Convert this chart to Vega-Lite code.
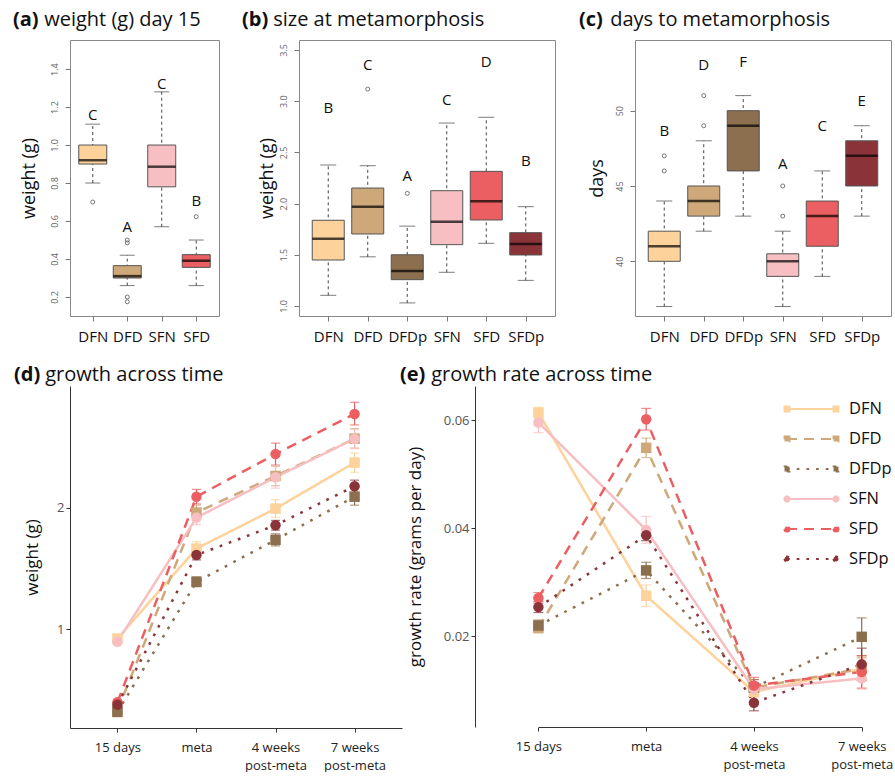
{
  "$schema": "https://vega.github.io/schema/vega-lite/v6.json",
  "autosize": {"type": "pad"},
  "padding": {"left": 12, "top": 9, "right": 0, "bottom": 0},
  "background": "white",
  "config": {
    "font": "Open Sans",
    "view": {"stroke": null},
    "axis": {"grid": false},
    "title": {"anchor": "start", "frame": "group", "fontSize": 20, "fontWeight": "bold", "subtitleFontSize": 20, "subtitleFontWeight": "normal", "color": "#111", "subtitleColor": "#111", "subtitlePadding": -20, "offset": 10, "font": "Open Sans", "subtitleFont": "Open Sans"}
  },
  "datasets": {
    "boxA": [
      {"g": "DFN", "lo": 0.80, "q1": 0.90, "med": 0.92, "q3": 1.00, "hi": 1.11, "letter": "C", "ly": 1.158},
      {"g": "DFD", "lo": 0.26, "q1": 0.30, "med": 0.31, "q3": 0.365, "hi": 0.42, "letter": "A", "ly": 0.568},
      {"g": "SFN", "lo": 0.57, "q1": 0.78, "med": 0.886, "q3": 1.00, "hi": 1.28, "letter": "C", "ly": 1.32},
      {"g": "SFD", "lo": 0.26, "q1": 0.356, "med": 0.391, "q3": 0.423, "hi": 0.50, "letter": "B", "ly": 0.707}
    ],
    "outA": [
      {"g": "DFN", "v": 0.70},
      {"g": "DFD", "v": 0.485},
      {"g": "DFD", "v": 0.50},
      {"g": "DFD", "v": 0.20},
      {"g": "DFD", "v": 0.175},
      {"g": "SFD", "v": 0.623}
    ],
    "boxB": [
      {"g": "DFN", "lo": 1.104, "q1": 1.449, "med": 1.657, "q3": 1.837, "hi": 2.377, "letter": "B", "ly": 2.93},
      {"g": "DFD", "lo": 1.48, "q1": 1.703, "med": 1.97, "q3": 2.152, "hi": 2.37, "letter": "C", "ly": 3.357},
      {"g": "DFDp", "lo": 1.03, "q1": 1.257, "med": 1.342, "q3": 1.50, "hi": 1.78, "letter": "A", "ly": 2.267},
      {"g": "SFN", "lo": 1.329, "q1": 1.599, "med": 1.823, "q3": 2.126, "hi": 2.787, "letter": "C", "ly": 3.01},
      {"g": "SFD", "lo": 1.612, "q1": 1.84, "med": 2.022, "q3": 2.315, "hi": 2.843, "letter": "D", "ly": 3.38},
      {"g": "SFDp", "lo": 1.25, "q1": 1.498, "med": 1.605, "q3": 1.716, "hi": 1.97, "letter": "B", "ly": 2.413}
    ],
    "outB": [
      {"g": "DFD", "v": 3.119},
      {"g": "DFDp", "v": 2.10}
    ],
    "boxC": [
      {"g": "DFN", "lo": 37, "q1": 40, "med": 41, "q3": 42, "hi": 44, "letter": "B", "ly": 48.67},
      {"g": "DFD", "lo": 42, "q1": 43, "med": 44, "q3": 45, "hi": 48, "letter": "D", "ly": 53.05},
      {"g": "DFDp", "lo": 43, "q1": 46, "med": 49, "q3": 50, "hi": 51, "letter": "F", "ly": 53.25},
      {"g": "SFN", "lo": 37, "q1": 39, "med": 40, "q3": 40.5, "hi": 42, "letter": "A", "ly": 46.46},
      {"g": "SFD", "lo": 39, "q1": 41, "med": 43, "q3": 44, "hi": 46, "letter": "C", "ly": 48.96},
      {"g": "SFDp", "lo": 43, "q1": 45, "med": 47, "q3": 48, "hi": 49, "letter": "E", "ly": 50.66}
    ],
    "outC": [
      {"g": "DFN", "v": 46},
      {"g": "DFN", "v": 47},
      {"g": "DFD", "v": 49},
      {"g": "DFD", "v": 51},
      {"g": "SFN", "v": 43},
      {"g": "SFN", "v": 45}
    ],
    "growth": [
      {"g": "DFN", "s": "DFN", "t": 0, "time": "15 days", "m": 0.924, "lo": 0.905, "hi": 0.945},
      {"g": "DFN", "s": "DFN", "t": 1, "time": "meta", "m": 1.663, "lo": 1.60, "hi": 1.72},
      {"g": "DFN", "s": "DFN", "t": 2, "time": "4 weeks|post-meta", "m": 1.992, "lo": 1.92, "hi": 2.066},
      {"g": "DFN", "s": "DFN", "t": 3, "time": "7 weeks|post-meta", "m": 2.37, "lo": 2.29, "hi": 2.45},
      {"g": "DFD", "s": "DFD", "t": 0, "time": "15 days", "m": 0.33, "lo": 0.31, "hi": 0.35},
      {"g": "DFD", "s": "DFD", "t": 1, "time": "meta", "m": 1.96, "lo": 1.90, "hi": 2.02},
      {"g": "DFD", "s": "DFD", "t": 2, "time": "4 weeks|post-meta", "m": 2.26, "lo": 2.18, "hi": 2.34},
      {"g": "DFD", "s": "DFD", "t": 3, "time": "7 weeks|post-meta", "m": 2.567, "lo": 2.49, "hi": 2.65},
      {"g": "DFDp", "s": "DFDp", "t": 0, "time": "15 days", "m": 0.32, "lo": 0.30, "hi": 0.34},
      {"g": "DFDp", "s": "DFDp", "t": 1, "time": "meta", "m": 1.39, "lo": 1.35, "hi": 1.43},
      {"g": "DFDp", "s": "DFDp", "t": 2, "time": "4 weeks|post-meta", "m": 1.735, "lo": 1.685, "hi": 1.785},
      {"g": "DFDp", "s": "DFDp", "t": 3, "time": "7 weeks|post-meta", "m": 2.09, "lo": 2.02, "hi": 2.16},
      {"g": "SFN", "s": "SFN", "t": 0, "time": "15 days", "m": 0.897, "lo": 0.877, "hi": 0.917},
      {"g": "SFN", "s": "SFN", "t": 1, "time": "meta", "m": 1.918, "lo": 1.86, "hi": 1.98},
      {"g": "SFN", "s": "SFN", "t": 2, "time": "4 weeks|post-meta", "m": 2.25, "lo": 2.16, "hi": 2.34},
      {"g": "SFN", "s": "SFN", "t": 3, "time": "7 weeks|post-meta", "m": 2.565, "lo": 2.485, "hi": 2.645},
      {"g": "SFD", "s": "SFD", "t": 0, "time": "15 days", "m": 0.40, "lo": 0.38, "hi": 0.42},
      {"g": "SFD", "s": "SFD", "t": 1, "time": "meta", "m": 2.09, "lo": 2.03, "hi": 2.15},
      {"g": "SFD", "s": "SFD", "t": 2, "time": "4 weeks|post-meta", "m": 2.44, "lo": 2.35, "hi": 2.53},
      {"g": "SFD", "s": "SFD", "t": 3, "time": "7 weeks|post-meta", "m": 2.77, "lo": 2.68, "hi": 2.866},
      {"g": "SFDp", "s": "SFDp", "t": 0, "time": "15 days", "m": 0.38, "lo": 0.36, "hi": 0.40},
      {"g": "SFDp", "s": "SFDp", "t": 1, "time": "meta", "m": 1.61, "lo": 1.57, "hi": 1.65},
      {"g": "SFDp", "s": "SFDp", "t": 2, "time": "4 weeks|post-meta", "m": 1.855, "lo": 1.815, "hi": 1.895},
      {"g": "SFDp", "s": "SFDp", "t": 3, "time": "7 weeks|post-meta", "m": 2.176, "lo": 2.126, "hi": 2.226}
    ],
    "rate": [
      {"g": "DFN", "t": 0, "time": "15 days", "m": 0.0614, "lo": 0.0604, "hi": 0.0624},
      {"g": "DFN", "t": 1, "time": "meta", "m": 0.0275, "lo": 0.0255, "hi": 0.0295},
      {"g": "DFN", "t": 2, "time": "4 weeks|post-meta", "m": 0.0097, "lo": 0.0087, "hi": 0.0107},
      {"g": "DFN", "t": 3, "time": "7 weeks|post-meta", "m": 0.014, "lo": 0.012, "hi": 0.016},
      {"g": "DFD", "t": 0, "time": "15 days", "m": 0.0216, "lo": 0.0206, "hi": 0.0226},
      {"g": "DFD", "t": 1, "time": "meta", "m": 0.0549, "lo": 0.0531, "hi": 0.0567},
      {"g": "DFD", "t": 2, "time": "4 weeks|post-meta", "m": 0.0105, "lo": 0.009, "hi": 0.012},
      {"g": "DFD", "t": 3, "time": "7 weeks|post-meta", "m": 0.014, "lo": 0.012, "hi": 0.016},
      {"g": "DFDp", "t": 0, "time": "15 days", "m": 0.022, "lo": 0.021, "hi": 0.023},
      {"g": "DFDp", "t": 1, "time": "meta", "m": 0.0322, "lo": 0.0307, "hi": 0.0337},
      {"g": "DFDp", "t": 2, "time": "4 weeks|post-meta", "m": 0.0105, "lo": 0.009, "hi": 0.012},
      {"g": "DFDp", "t": 3, "time": "7 weeks|post-meta", "m": 0.0199, "lo": 0.0164, "hi": 0.0234},
      {"g": "SFN", "t": 0, "time": "15 days", "m": 0.0596, "lo": 0.0577, "hi": 0.0615},
      {"g": "SFN", "t": 1, "time": "meta", "m": 0.0397, "lo": 0.0372, "hi": 0.0422},
      {"g": "SFN", "t": 2, "time": "4 weeks|post-meta", "m": 0.0102, "lo": 0.0092, "hi": 0.0112},
      {"g": "SFN", "t": 3, "time": "7 weeks|post-meta", "m": 0.0122, "lo": 0.0102, "hi": 0.0142},
      {"g": "SFD", "t": 0, "time": "15 days", "m": 0.0271, "lo": 0.0261, "hi": 0.0281},
      {"g": "SFD", "t": 1, "time": "meta", "m": 0.0602, "lo": 0.0582, "hi": 0.0622},
      {"g": "SFD", "t": 2, "time": "4 weeks|post-meta", "m": 0.0109, "lo": 0.0094, "hi": 0.0124},
      {"g": "SFD", "t": 3, "time": "7 weeks|post-meta", "m": 0.0134, "lo": 0.0104, "hi": 0.0164},
      {"g": "SFDp", "t": 0, "time": "15 days", "m": 0.0254, "lo": 0.0244, "hi": 0.0264},
      {"g": "SFDp", "t": 1, "time": "meta", "m": 0.0387, "lo": 0.0377, "hi": 0.0397},
      {"g": "SFDp", "t": 2, "time": "4 weeks|post-meta", "m": 0.0077, "lo": 0.0062, "hi": 0.0092},
      {"g": "SFDp", "t": 3, "time": "7 weeks|post-meta", "m": 0.0148, "lo": 0.0118, "hi": 0.0178}
    ]
  },
  "spacing": 20,
  "resolve": {"scale": {"color": "independent", "fill": "independent", "strokeDash": "independent", "shape": "independent"}, "legend": {"color": "independent", "fill": "independent", "strokeDash": "independent", "shape": "independent"}},
  "vconcat": [
    {
      "bounds": "flush",
      "spacing": 80,
      "hconcat": [
        {
          "width": 149, "height": 276,
          "view": {"stroke": "#888"},
          "title": {"text": "(a)", "subtitle": "\u200b\u00a0\u00a0\u00a0\u00a0\u00a0\u00a0weight (g) day 15", "dx": -57},
          "encoding": {"x": {"field": "g", "type": "nominal", "scale": {"type": "point", "padding": 0.66, "domain": ["DFN", "DFD", "SFN", "SFD"]}, "axis": {"title": null, "domain": false, "tickColor": "#777", "tickSize": 5, "labelFontSize": 15, "labelColor": "#111", "labelPadding": 8, "labelAngle": 0}}},
          "layer": [
            {"data": {"name": "boxA"}, "mark": {"type": "rule", "strokeDash": [3, 3], "color": "#444", "strokeWidth": 1}, "encoding": {"y": {"field": "lo", "type": "quantitative", "scale": {"domain": [0.1, 1.553], "nice": false, "zero": false}, "axis": {"title": "weight (g)", "titleFontSize": 18, "titleFontWeight": "normal", "titleColor": "#111", "titlePadding": 12, "labelAngle": -90, "labelFontSize": 9, "labelColor": "#666", "labelPadding": 6, "tickColor": "#777", "tickSize": 5, "domain": false, "values": [0.2, 0.4, 0.6, 0.8, 1.0, 1.2, 1.4], "format": ".1f"}}, "y2": {"field": "hi"}}},
            {"data": {"name": "boxA"}, "mark": {"type": "tick", "color": "#444", "size": 15, "thickness": 1}, "encoding": {"y": {"field": "lo", "type": "quantitative"}}},
            {"data": {"name": "boxA"}, "mark": {"type": "tick", "color": "#444", "size": 15, "thickness": 1}, "encoding": {"y": {"field": "hi", "type": "quantitative"}}},
            {"data": {"name": "boxA"}, "mark": {"type": "bar", "size": 28, "stroke": "#555", "strokeWidth": 1}, "encoding": {"y": {"field": "q1", "type": "quantitative"}, "y2": {"field": "q3"}, "fill": {"field": "g", "type": "nominal", "scale": {"domain": ["DFN", "DFD", "DFDp", "SFN", "SFD", "SFDp"], "range": ["#FDD29B", "#CFA87A", "#8B6F4E", "#F7BFC1", "#EB5E61", "#8A343A"]}, "legend": null}}},
            {"data": {"name": "boxA"}, "mark": {"type": "tick", "color": "#000", "size": 28, "thickness": 2.5}, "encoding": {"y": {"field": "med", "type": "quantitative"}}},
            {"data": {"name": "outA"}, "mark": {"type": "point", "shape": "circle", "size": 16, "stroke": "#555", "strokeWidth": 0.8, "filled": false, "opacity": 1}, "encoding": {"y": {"field": "v", "type": "quantitative"}}},
            {"data": {"name": "boxA"}, "mark": {"type": "text", "fontSize": 15, "color": "#111", "baseline": "middle"}, "encoding": {"y": {"field": "ly", "type": "quantitative"}, "text": {"field": "letter"}}}
          ]
        },
        {
          "width": 256, "height": 276,
          "view": {"stroke": "#888"},
          "title": {"text": "(b)", "subtitle": "\u200b\u00a0\u00a0\u00a0\u00a0\u00a0\u00a0size at metamorphosis", "dx": -57},
          "encoding": {"x": {"field": "g", "type": "nominal", "scale": {"type": "point", "padding": 0.74, "domain": ["DFN", "DFD", "DFDp", "SFN", "SFD", "SFDp"]}, "axis": {"title": null, "domain": false, "tickColor": "#777", "tickSize": 5, "labelFontSize": 15, "labelColor": "#111", "labelPadding": 8, "labelAngle": 0}}},
          "layer": [
            {"data": {"name": "boxB"}, "mark": {"type": "rule", "strokeDash": [3, 3], "color": "#444", "strokeWidth": 1}, "encoding": {"y": {"field": "lo", "type": "quantitative", "scale": {"domain": [0.902, 3.598], "nice": false, "zero": false}, "axis": {"title": "weight (g)", "titleFontSize": 18, "titleFontWeight": "normal", "titleColor": "#111", "titlePadding": 3, "labelAngle": -90, "labelFontSize": 9, "labelColor": "#666", "labelPadding": 6, "tickColor": "#777", "tickSize": 5, "domain": false, "values": [1.0, 1.5, 2.0, 2.5, 3.0, 3.5], "format": ".1f"}}, "y2": {"field": "hi"}}},
            {"data": {"name": "boxB"}, "mark": {"type": "tick", "color": "#444", "size": 16, "thickness": 1}, "encoding": {"y": {"field": "lo", "type": "quantitative"}}},
            {"data": {"name": "boxB"}, "mark": {"type": "tick", "color": "#444", "size": 16, "thickness": 1}, "encoding": {"y": {"field": "hi", "type": "quantitative"}}},
            {"data": {"name": "boxB"}, "mark": {"type": "bar", "size": 32, "stroke": "#555", "strokeWidth": 1}, "encoding": {"y": {"field": "q1", "type": "quantitative"}, "y2": {"field": "q3"}, "fill": {"field": "g", "type": "nominal", "scale": {"domain": ["DFN", "DFD", "DFDp", "SFN", "SFD", "SFDp"], "range": ["#FDD29B", "#CFA87A", "#8B6F4E", "#F7BFC1", "#EB5E61", "#8A343A"]}, "legend": null}}},
            {"data": {"name": "boxB"}, "mark": {"type": "tick", "color": "#000", "size": 32, "thickness": 2.5}, "encoding": {"y": {"field": "med", "type": "quantitative"}}},
            {"data": {"name": "outB"}, "mark": {"type": "point", "shape": "circle", "size": 16, "stroke": "#555", "strokeWidth": 0.8, "filled": false, "opacity": 1}, "encoding": {"y": {"field": "v", "type": "quantitative"}}},
            {"data": {"name": "boxB"}, "mark": {"type": "text", "fontSize": 15, "color": "#111", "baseline": "middle"}, "encoding": {"y": {"field": "ly", "type": "quantitative"}, "text": {"field": "letter"}}}
          ]
        },
        {
          "width": 256, "height": 276,
          "view": {"stroke": "#888"},
          "title": {"text": "(c)", "subtitle": "\u200b\u00a0\u00a0\u00a0\u00a0\u00a0\u00a0days to metamorphosis", "dx": -56},
          "encoding": {"x": {"field": "g", "type": "nominal", "scale": {"type": "point", "padding": 0.74, "domain": ["DFN", "DFD", "DFDp", "SFN", "SFD", "SFDp"]}, "axis": {"title": null, "domain": false, "tickColor": "#777", "tickSize": 5, "labelFontSize": 15, "labelColor": "#111", "labelPadding": 8, "labelAngle": 0}}},
          "layer": [
            {"data": {"name": "boxC"}, "mark": {"type": "rule", "strokeDash": [3, 3], "color": "#444", "strokeWidth": 1}, "encoding": {"y": {"field": "lo", "type": "quantitative", "scale": {"domain": [36.37, 54.69], "nice": false, "zero": false}, "axis": {"title": "days", "titleFontSize": 18, "titleFontWeight": "normal", "titleColor": "#111", "titlePadding": 9, "labelAngle": -90, "labelFontSize": 9, "labelColor": "#666", "labelPadding": 6, "tickColor": "#777", "tickSize": 5, "domain": false, "values": [40, 45, 50], "format": "d"}}, "y2": {"field": "hi"}}},
            {"data": {"name": "boxC"}, "mark": {"type": "tick", "color": "#444", "size": 16, "thickness": 1}, "encoding": {"y": {"field": "lo", "type": "quantitative"}}},
            {"data": {"name": "boxC"}, "mark": {"type": "tick", "color": "#444", "size": 16, "thickness": 1}, "encoding": {"y": {"field": "hi", "type": "quantitative"}}},
            {"data": {"name": "boxC"}, "mark": {"type": "bar", "size": 32, "stroke": "#555", "strokeWidth": 1}, "encoding": {"y": {"field": "q1", "type": "quantitative"}, "y2": {"field": "q3"}, "fill": {"field": "g", "type": "nominal", "scale": {"domain": ["DFN", "DFD", "DFDp", "SFN", "SFD", "SFDp"], "range": ["#FDD29B", "#CFA87A", "#8B6F4E", "#F7BFC1", "#EB5E61", "#8A343A"]}, "legend": null}}},
            {"data": {"name": "boxC"}, "mark": {"type": "tick", "color": "#000", "size": 32, "thickness": 2.5}, "encoding": {"y": {"field": "med", "type": "quantitative"}}},
            {"data": {"name": "outC"}, "mark": {"type": "point", "shape": "circle", "size": 16, "stroke": "#555", "strokeWidth": 0.8, "filled": false, "opacity": 1}, "encoding": {"y": {"field": "v", "type": "quantitative"}}},
            {"data": {"name": "boxC"}, "mark": {"type": "text", "fontSize": 15, "color": "#111", "baseline": "middle"}, "encoding": {"y": {"field": "ly", "type": "quantitative"}, "text": {"field": "letter"}}}
          ]
        }
      ]
    },
    {
      "bounds": "flush",
      "spacing": 73,
      "resolve": {"scale": {"color": "independent", "strokeDash": "independent", "shape": "independent"}, "legend": {"color": "independent", "strokeDash": "independent", "shape": "independent"}},
      "hconcat": [
        {
          "width": 332, "height": 342,
          "title": {"text": "(d)", "subtitle": "\u200b\u00a0\u00a0\u00a0\u00a0\u00a0\u00a0growth across time", "dx": -56, "offset": 1},
          "data": {"name": "growth"},
          "encoding": {
            "x": {"field": "time", "type": "nominal", "scale": {"type": "point", "padding": 0.6, "domain": ["15 days", "meta", "4 weeks|post-meta", "7 weeks|post-meta"]}, "axis": {"title": null, "domainColor": "#333", "tickColor": "#333", "tickSize": 4, "labelFontSize": 13, "labelColor": "#222", "labelAngle": 0, "labelPadding": 9, "labelExpr": "split(datum.label, '|')", "labelLineHeight": 18}},
            "color": {"field": "g", "type": "nominal", "scale": {"domain": ["DFN", "DFD", "DFDp", "SFN", "SFD", "SFDp"], "range": ["#FDD29B", "#CFA87A", "#8B6F4E", "#F7BFC1", "#EB5E61", "#8A343A"]}, "legend": null}
          },
          "layer": [
            {"mark": {"type": "errorbar", "ticks": {"size": 9}, "thickness": 1.2}, "encoding": {"y": {"field": "lo", "type": "quantitative", "scale": {"domain": [0.188, 3.0], "nice": false, "zero": false}, "axis": {"title": "weight (g)", "titleFontSize": 17, "titleFontWeight": "normal", "titleColor": "#111", "titlePadding": 15, "values": [1, 2], "format": "d", "labelFontSize": 13, "labelColor": "#555", "tickColor": "#333", "tickSize": 4, "domainColor": "#333"}}, "y2": {"field": "hi"}}},
            {"mark": {"type": "line", "strokeWidth": 2.5}, "encoding": {"y": {"field": "m", "type": "quantitative"}, "strokeDash": {"field": "g", "type": "nominal", "scale": {"domain": ["DFN", "DFD", "DFDp", "SFN", "SFD", "SFDp"], "range": [[1, 0], [10, 7], [2.7, 7], [1, 0], [10, 7], [2.7, 7]]}, "legend": null}, "order": {"field": "t", "type": "quantitative"}}},
            {"mark": {"type": "point", "filled": true, "opacity": 1, "size": 110}, "encoding": {"y": {"field": "m", "type": "quantitative"}, "shape": {"field": "s", "type": "nominal", "scale": {"domain": ["DFN", "DFD", "DFDp", "SFN", "SFD", "SFDp"], "range": ["square", "square", "square", "circle", "circle", "circle"]}, "legend": null}}}
          ]
        },
        {
          "width": 416, "height": 341,
          "title": {"text": "(e)", "subtitle": "\u200b\u00a0\u00a0\u00a0\u00a0\u00a0\u00a0growth rate across time", "dx": -75, "offset": 1},
          "data": {"name": "rate"},
          "encoding": {
            "x": {"field": "time", "type": "nominal", "scale": {"type": "point", "padding": 0, "range": [63.4, 386.7], "domain": ["15 days", "meta", "4 weeks|post-meta", "7 weeks|post-meta"]}, "axis": {"title": null, "domainColor": "#333", "tickColor": "#333", "tickSize": 4, "labelFontSize": 13, "labelColor": "#222", "labelAngle": 0, "labelPadding": 9, "labelExpr": "split(datum.label, '|')", "labelLineHeight": 18}},
            "color": {"field": "g", "type": "nominal", "scale": {"domain": ["DFN", "DFD", "DFDp", "SFN", "SFD", "SFDp"], "range": ["#FDD29B", "#CFA87A", "#8B6F4E", "#F7BFC1", "#EB5E61", "#8A343A"]}, "legend": {"orient": "none", "legendX": 332, "legendY": 8, "title": null, "symbolSize": 784, "symbolStrokeWidth": 2, "labelFontSize": 16.5, "labelColor": "#111", "labelOffset": 12, "rowPadding": 6, "padding": 0, "encode": {"symbols": {"update": {"shape": {"signal": "indexof(['SFN','SFD','SFDp'], datum.value) >= 0 ? 'M-2.5,0H1M-2.68,0a0.18,0.18 0 1,0 0.36,0a0.18,0.18 0 1,0 -0.36,0zM0.82,0a0.18,0.18 0 1,0 0.36,0a0.18,0.18 0 1,0 -0.36,0z' : 'M-2.5,0H1M-2.675,-0.175h0.35v0.35h-0.35zM0.825,-0.175h0.35v0.35h-0.35z'"}, "size": {"value": 784}, "strokeWidth": {"value": 2}, "opacity": {"value": 1}, "fillOpacity": {"value": 1}, "strokeOpacity": {"value": 1}}}}}}
          },
          "layer": [
            {"mark": {"type": "errorbar", "ticks": {"size": 10}, "thickness": 1.2}, "encoding": {"y": {"field": "lo", "type": "quantitative", "scale": {"domain": [0.0032, 0.06635], "nice": false, "zero": false}, "axis": {"title": "growth rate (grams per day)", "titleFontSize": 17, "titleFontWeight": "normal", "titleColor": "#111", "titlePadding": 19, "values": [0.02, 0.04, 0.06], "format": ".2f", "labelFontSize": 13, "labelColor": "#555", "tickColor": "#333", "tickSize": 4, "domainColor": "#333"}}, "y2": {"field": "hi"}}},
            {"mark": {"type": "line", "strokeWidth": 2.5}, "encoding": {"y": {"field": "m", "type": "quantitative"}, "strokeDash": {"field": "g", "type": "nominal", "scale": {"domain": ["DFN", "DFD", "DFDp", "SFN", "SFD", "SFDp"], "range": [[1, 0], [10, 7], [2.7, 7], [1, 0], [10, 7], [2.7, 7]]}, "legend": {"orient": "none", "legendX": 332, "legendY": 8, "title": null, "symbolSize": 784, "symbolStrokeWidth": 2, "labelFontSize": 16.5, "labelColor": "#111", "labelOffset": 12, "rowPadding": 6, "padding": 0}}, "order": {"field": "t", "type": "quantitative"}}},
            {"transform": [{"filter": "indexof(['DFN','DFD','DFDp'], datum.g) >= 0"}], "mark": {"type": "point", "shape": "square", "filled": true, "opacity": 1, "size": 110}, "encoding": {"y": {"field": "m", "type": "quantitative"}}},
            {"transform": [{"filter": "indexof(['SFN','SFD','SFDp'], datum.g) >= 0"}], "mark": {"type": "point", "shape": "circle", "filled": true, "opacity": 1, "size": 110}, "encoding": {"y": {"field": "m", "type": "quantitative"}}}
          ]
        }
      ]
    }
  ]
}
